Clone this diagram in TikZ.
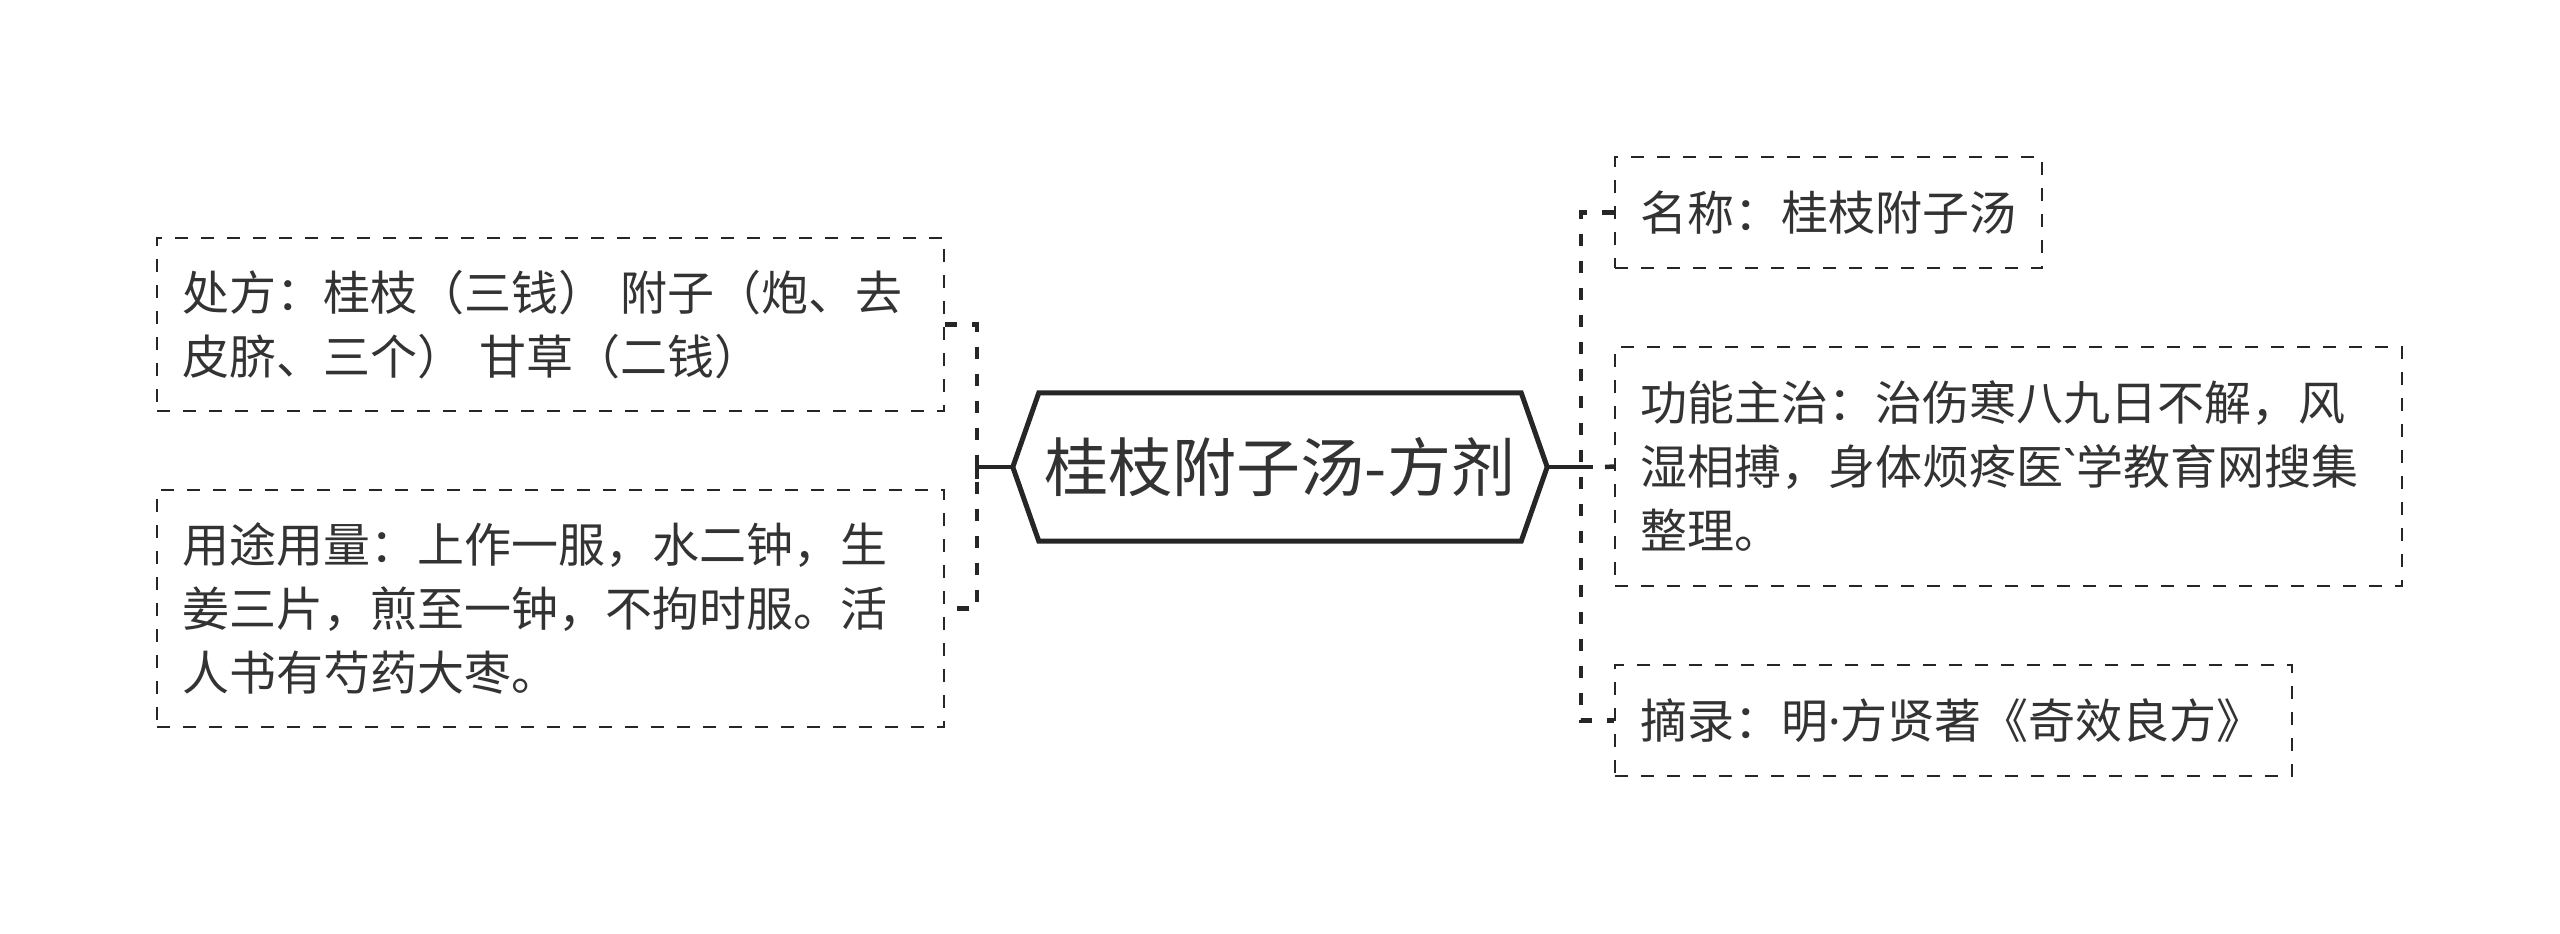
\documentclass[tikz,border=0pt]{standalone}
\usepackage{fontspec}
\newfontfamily\cjk{Noto Sans CJK SC}
\newfontfamily\lat{Noto Sans}
\definecolor{linec}{HTML}{262626}
\definecolor{textc}{HTML}{333333}
\tikzset{
  box/.style={draw=linec, dash pattern=on 13pt off 13pt, line width=2pt,
    inner xsep=25pt, inner ysep=0pt, align=left, text=textc,
    font=\cjk\fontsize{47}{64}\selectfont},
  hexline/.style={draw=linec, line width=5pt, line join=miter},
  conn/.style={draw=linec, line width=4.5pt, dash pattern=on 12pt off 15pt},
  solidconn/.style={draw=linec, line width=4.5pt},
  maintext/.style={text=textc, font=\cjk\fontsize{64}{70}\selectfont,
    minimum width=534pt, minimum height=148pt, inner sep=0pt}
}
\begin{document}
\begin{tikzpicture}[x=1pt,y=-1pt]
\useasboundingbox (0,0) rectangle (2560,934);
\fill[white] (0,0) rectangle (2560,934);

% central node
\node[maintext] (c) at (1280,467) {桂枝附子汤-方剂};
\draw[hexline] (c.west) -- ([xshift=26pt]c.north west) -- ([xshift=-26pt]c.north east)
  -- (c.east) -- ([xshift=-26pt]c.south east) -- ([xshift=26pt]c.south west) -- cycle;

% left boxes
\node[box, minimum width=787pt, text width=737pt, minimum height=173pt] (L1) at (550.5,324.5)
  {处方：桂枝（三钱） 附子（炮、去\\皮脐、三个） 甘草（二钱）};
\node[box, minimum width=787pt, text width=737pt, minimum height=237pt] (L2) at (550.5,608.5)
  {用途用量：上作一服，水二钟，生\\姜三片，煎至一钟，不拘时服。活\\人书有芍药大枣。};

% right boxes
\node[box, minimum width=427pt, text width=377pt, minimum height=111pt] (R1) at (1828.5,212.5)
  {名称：桂枝附子汤};
\node[box, minimum width=787pt, text width=737pt, minimum height=239pt] (R2) at (2008.5,466.5)
  {功能主治：治伤寒八九日不解，风\\湿相搏，身体烦疼医{\lat\char96}学教育网搜集\\整理。};
\node[box, minimum width=677pt, text width=627pt, minimum height=111pt] (R3) at (1953.5,720.5)
  {摘录：明{\lat ·}方贤著《奇效良方》};

% junctions
\coordinate (lj) at (977,467);
\coordinate (rj) at (1581,467);

% left connectors
\draw[solidconn] (c.west) -- (lj);
\draw[solidconn] ([yshift=-12pt]lj) -- ([yshift=12pt]lj);
\draw[conn] (L1.east) -- (L1.east -| lj) -- (L2.east -| lj) -- (L2.east);

% right connectors
\draw[solidconn] (c.east) -- ([xshift=12pt]rj);
\draw[conn] (R1.west) -- (R1.west -| rj) -- (R3.west -| rj) -- (R3.west);
\draw[conn] ([xshift=24pt]rj) -- (R2.west);
\end{tikzpicture}
\end{document}
